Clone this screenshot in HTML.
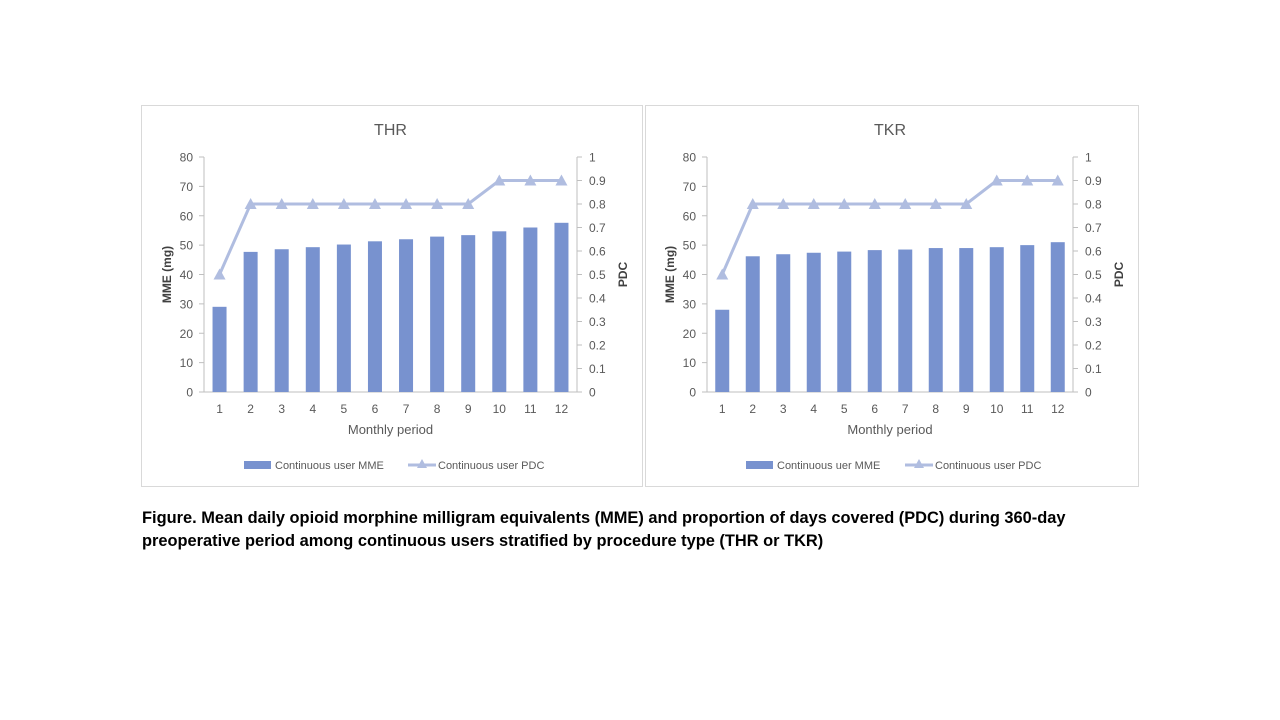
<!DOCTYPE html>
<html><head><meta charset="utf-8"><style>
body{margin:0;background:#fff;width:1280px;height:720px;overflow:hidden;font-family:"Liberation Sans",sans-serif}
.cap{position:absolute;left:142px;top:507px;font-weight:bold;font-size:16.4px;line-height:23px;color:#000;width:1000px}
text{font-family:"Liberation Sans",sans-serif}
</style></head><body>
<svg id="s" width="1280" height="720" style="position:absolute;left:0;top:0"></svg>
<div class="cap">Figure. Mean daily opioid morphine milligram equivalents (MME) and proportion of days covered (PDC) during 360-day preoperative period among continuous users stratified by procedure type (THR or TKR)</div>
<script>
const categories=[1,2,3,4,5,6,7,8,9,10,11,12];
const thrMME=[29,47.7,48.6,49.3,50.2,51.3,52,52.9,53.4,54.7,56,57.6];
const thrPDC=[0.5,0.8,0.8,0.8,0.8,0.8,0.8,0.8,0.8,0.9,0.9,0.9];
const tkrMME=[28,46.2,46.9,47.4,47.8,48.3,48.5,49,49,49.3,50,51];
const tkrPDC=[0.5,0.8,0.8,0.8,0.8,0.8,0.8,0.8,0.8,0.9,0.9,0.9];
const leftTicks=[0,10,20,30,40,50,60,70,80];
const rightTicks=[0,0.1,0.2,0.3,0.4,0.5,0.6,0.7,0.8,0.9,1];
const svg=document.getElementById('s');
const NS='http://www.w3.org/2000/svg';
function mk(t,a,p){const e=document.createElementNS(NS,t);for(const k in a)e.setAttribute(k,a[k]);(p||svg).appendChild(e);return e;}
function chart(o){
 const g=mk('g',{});
 
 
 const fr=mk('rect',{x:o.px+0.5,y:o.py+0.5,width:o.pw,height:o.ph,fill:'#fff',stroke:'#d9d9d9'},g);
 
 
 const L=o.l,R=o.r,T=157,B=392;
 const y=v=>B-(v/80)*(B-T), y2=v=>B-v*(B-T);
 const step=(R-L)/categories.length, x=i=>L+step*(i+0.5);
 const t=mk('text',{x:(L+R)/2,y:135,'text-anchor':'middle','font-size':16,fill:'#595959'},g);t.textContent=o.title;
 
 
 mk('line',{x1:L,y1:T,x2:L,y2:B,stroke:'#bfbfbf'},g);
 mk('line',{x1:R,y1:T,x2:R,y2:B,stroke:'#bfbfbf'},g);
 mk('line',{x1:L,y1:B,x2:R,y2:B,stroke:'#bfbfbf'},g);
 leftTicks.forEach(v=>{mk('line',{x1:L-5,y1:y(v),x2:L,y2:y(v),stroke:'#bfbfbf'},g);
  const tx=mk('text',{x:L-11,y:y(v)+4.5,'text-anchor':'end','font-size':12,fill:'#595959'},g);tx.textContent=v;
  
  });
 rightTicks.forEach(v=>{mk('line',{x1:R,y1:y2(v),x2:R+5,y2:y2(v),stroke:'#bfbfbf'},g);
  const tx=mk('text',{x:R+12,y:y2(v)+4.5,'font-size':12,fill:'#595959'},g);tx.textContent=v;
  
  });
 categories.forEach((c,i)=>{const tx=mk('text',{x:x(i),y:413,'text-anchor':'middle','font-size':12,fill:'#595959'},g);tx.textContent=c;
  
  });
 o.mme.forEach((v,i)=>{const b=mk('rect',{x:x(i)-7,y:y(v),width:14,height:B-y(v),fill:'#7892cf'},g);
  
  });
 const pl=mk('polyline',{points:o.pdc.map((v,i)=>x(i)+','+y2(v)).join(' '),fill:'none',stroke:'#b0bde0','stroke-width':3},g);
 
 
 o.pdc.forEach((v,i)=>{const cx=x(i),cy=y2(v);const m=mk('polygon',{points:`${cx},${cy-6} ${cx-6},${cy+5} ${cx+6},${cy+5}`,fill:'#b0bde0'},g);
  
  });
 const a=mk('text',{x:(L+R)/2,y:434,'text-anchor':'middle','font-size':13,fill:'#595959'},g);a.textContent='Monthly period';
 
 const yl=mk('text',{transform:`translate(${L-33},${(T+B)/2}) rotate(-90)`,'text-anchor':'middle','font-size':12,'font-weight':'bold',fill:'#404040'},g);yl.textContent='MME (mg)';
 
 const yr=mk('text',{transform:`translate(${R+50},${(T+B)/2}) rotate(-90)`,'text-anchor':'middle','font-size':12,'font-weight':'bold',fill:'#404040'},g);yr.textContent='PDC';
 
 const lx=o.lx;
 const lb=mk('rect',{x:lx,y:461,width:27,height:8,fill:'#7892cf'},g);
 
 const l1=mk('text',{x:lx+31,y:469,'font-size':11,fill:'#595959'},g);l1.textContent=o.leg1;
 
 const l2x=o.l2x;
 mk('line',{x1:l2x,y1:465,x2:l2x+28,y2:465,stroke:'#b0bde0','stroke-width':3},g);
 mk('polygon',{points:`${l2x+14},${459} ${l2x+9},${468} ${l2x+19},${468}`,fill:'#b0bde0'},g);
 const l2=mk('text',{x:l2x+30,y:469,'font-size':11,fill:'#595959'},g);l2.textContent='Continuous user PDC';
 
}
chart({id:'thr',title:'THR',px:141,py:105,pw:501,ph:381,l:204,r:577,mme:thrMME,pdc:thrPDC,lx:244,l2x:408,leg1:'Continuous user MME'});
chart({id:'tkr',title:'TKR',px:645,py:105,pw:493,ph:381,l:707,r:1073,mme:tkrMME,pdc:tkrPDC,lx:746,l2x:905,leg1:'Continuous uer MME'});
</script>
</body></html>
